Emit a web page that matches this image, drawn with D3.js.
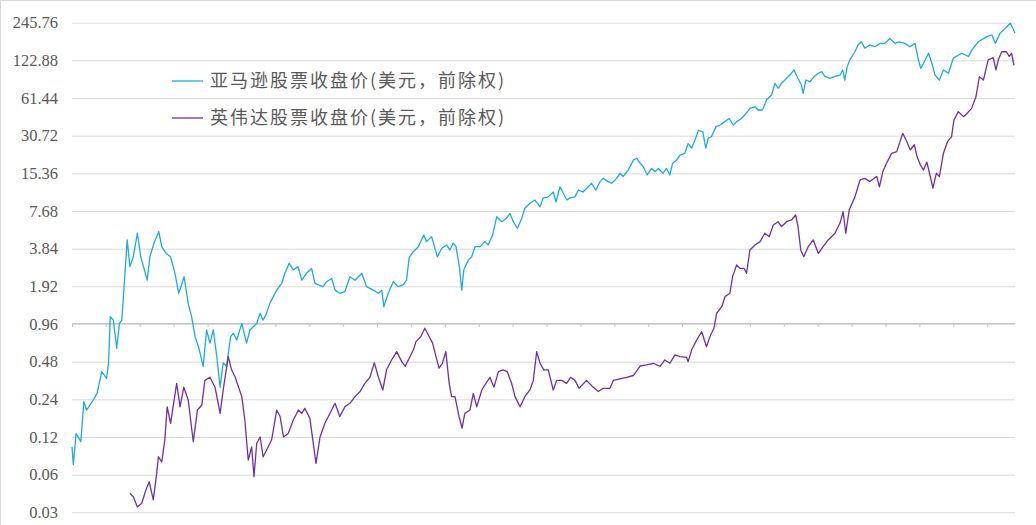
<!DOCTYPE html>
<html>
<head>
<meta charset="utf-8">
<script src="https://cdn.jsdelivr.net/npm/d3@7"></script>
<style>
  body { margin: 0; background: #fff; }
  svg { display: block; }
</style>
</head>
<body>
<div id="container"></div>
<script>
/* DATA (decimal year, close price in USD, split adjusted) */
const amazon = [
  [1997.37,0.100],[1997.41,0.072],[1997.49,0.128],[1997.63,0.110],[1997.72,0.230],[1997.80,0.197],[1997.99,0.235],
  [1998.11,0.268],[1998.25,0.400],[1998.39,0.353],[1998.45,0.470],[1998.50,1.10],[1998.59,1.03],[1998.69,0.614],
  [1998.77,0.97],[1998.84,1.03],[1998.90,1.79],[1999.00,4.51],[1999.08,2.76],[1999.18,3.31],[1999.30,5.10],
  [1999.40,3.31],[1999.59,2.15],[1999.67,3.31],[1999.79,4.26],[1999.93,5.25],[2000.02,3.98],[2000.15,3.52],
  [2000.28,3.31],[2000.41,2.44],[2000.52,1.69],[2000.68,2.29],[2000.80,1.40],[2000.90,1.10],[2001.00,0.76],
  [2001.10,0.63],[2001.15,0.56],[2001.24,0.44],[2001.34,0.86],[2001.44,0.675],[2001.54,0.86],[2001.64,0.53],
  [2001.74,0.30],[2001.83,0.47],[2001.93,0.44],[2002.05,0.76],[2002.13,0.81],[2002.23,0.715],[2002.38,0.97],
  [2002.52,0.675],[2002.62,0.86],[2002.82,0.97],[2002.92,1.17],[2003.01,1.03],[2003.11,1.17],[2003.21,1.41],
  [2003.31,1.59],[2003.41,1.79],[2003.56,2.03],[2003.65,2.44],[2003.78,2.93],[2003.90,2.59],[2004.04,2.76],
  [2004.15,2.15],[2004.29,2.44],[2004.44,2.67],[2004.54,2.03],[2004.64,1.97],[2004.78,1.91],[2004.88,2.09],
  [2005.03,2.22],[2005.13,1.79],[2005.27,1.69],[2005.42,1.74],[2005.57,2.29],[2005.72,2.15],[2005.82,2.29],
  [2005.92,2.44],[2006.06,1.91],[2006.26,1.79],[2006.41,1.69],[2006.51,1.79],[2006.57,1.32],[2006.70,1.69],
  [2006.85,2.09],[2006.99,1.91],[2007.14,1.97],[2007.24,2.15],[2007.32,3.27],[2007.44,3.63],[2007.59,3.98],
  [2007.75,4.95],[2007.83,4.37],[2007.98,4.79],[2008.15,3.31],[2008.28,3.87],[2008.42,4.11],[2008.52,3.75],
  [2008.62,4.26],[2008.70,3.98],[2008.80,2.76],[2008.87,1.79],[2008.93,2.59],[2009.06,3.11],[2009.16,3.31],
  [2009.26,3.98],[2009.41,3.98],[2009.55,4.37],[2009.65,4.11],[2009.78,4.95],[2009.90,6.92],[2010.05,6.31],
  [2010.19,6.73],[2010.29,7.36],[2010.39,6.31],[2010.51,5.59],[2010.64,6.73],[2010.73,8.07],[2010.88,8.85],
  [2011.03,9.40],[2011.18,8.30],[2011.27,9.74],[2011.42,9.96],[2011.57,10.9],[2011.65,9.07],[2011.77,12.0],
  [2011.87,10.6],[2011.97,9.40],[2012.06,9.74],[2012.21,9.96],[2012.31,11.3],[2012.45,10.9],[2012.60,12.0],
  [2012.70,12.8],[2012.83,11.3],[2012.95,13.2],[2013.04,14.0],[2013.19,13.2],[2013.29,12.8],[2013.44,14.0],
  [2013.54,15.4],[2013.63,14.5],[2013.78,16.3],[2013.93,19.6],[2014.03,20.2],[2014.13,18.5],[2014.22,17.4],
  [2014.34,14.9],[2014.47,16.8],[2014.57,15.8],[2014.67,16.8],[2014.81,15.4],[2014.91,16.8],[2015.01,14.9],
  [2015.09,18.5],[2015.21,19.6],[2015.31,21.5],[2015.45,22.2],[2015.55,26.6],[2015.65,24.4],[2015.75,28.4],
  [2015.85,33.9],[2015.98,33.1],[2016.07,24.4],[2016.14,29.3],[2016.24,30.2],[2016.37,36.3],[2016.49,37.4],
  [2016.63,39.8],[2016.76,42.2],[2016.88,37.4],[2016.98,39.8],[2017.12,42.2],[2017.22,44.9],[2017.37,50.8],
  [2017.52,52.3],[2017.61,49.3],[2017.74,49.3],[2017.86,59.2],[2018.01,64.9],[2018.11,80.6],[2018.20,73.5],
  [2018.30,80.6],[2018.45,88.0],[2018.55,93.8],[2018.67,103],[2018.79,88.0],[2018.89,78.0],[2018.94,66.9],
  [2019.02,85.6],[2019.14,82.9],[2019.26,90.8],[2019.39,96.9],[2019.49,99.8],[2019.58,91.6],[2019.73,88.3],
  [2019.88,91.6],[2020.03,93.8],[2020.11,103],[2020.17,85.5],[2020.24,109],[2020.32,124],[2020.47,144],
  [2020.56,163],[2020.66,173],[2020.76,154],[2020.91,163],[2021.06,158],[2021.21,168],[2021.35,168],
  [2021.50,184],[2021.65,168],[2021.77,173],[2021.94,168],[2022.09,158],[2022.24,168],[2022.34,124],
  [2022.41,106],[2022.49,116],[2022.64,140],[2022.74,116],[2022.83,93.8],[2022.96,85.5],[2023.08,103],
  [2023.23,96.9],[2023.37,128],[2023.62,140],[2023.82,132],[2023.92,149],[2024.11,173],[2024.36,190],
  [2024.51,196],[2024.61,168],[2024.75,202],[2024.90,221],[2025.05,243],[2025.13,221],[2025.19,202]
]

const nvidia = [
  [1999.08,0.0426],[1999.18,0.040],[1999.30,0.0331],[1999.43,0.0354],[1999.55,0.0451],[1999.65,0.0526],
  [1999.77,0.0377],[1999.87,0.0614],[1999.92,0.0834],[2000.02,0.076],[2000.11,0.1135],[2000.18,0.209],
  [2000.28,0.154],[2000.46,0.322],[2000.56,0.209],[2000.67,0.30],[2000.80,0.238],[2000.95,0.110],
  [2001.07,0.197],[2001.20,0.216],[2001.29,0.34],[2001.44,0.36],[2001.59,0.30],[2001.74,0.185],
  [2001.83,0.285],[2001.98,0.526],[2002.08,0.413],[2002.18,0.364],[2002.38,0.252],[2002.47,0.164],
  [2002.57,0.0785],[2002.67,0.10],[2002.74,0.0578],[2002.82,0.107],[2002.92,0.12],[2003.01,0.0834],
  [2003.11,0.094],[2003.26,0.1135],[2003.41,0.197],[2003.51,0.175],[2003.61,0.12],[2003.75,0.128],
  [2003.90,0.164],[2004.05,0.197],[2004.15,0.185],[2004.24,0.203],[2004.39,0.169],[2004.57,0.0737],
  [2004.69,0.12],[2004.83,0.154],[2004.98,0.185],[2005.13,0.223],[2005.27,0.175],[2005.42,0.209],
  [2005.57,0.223],[2005.72,0.252],[2005.87,0.277],[2006.01,0.322],[2006.16,0.36],[2006.29,0.471],
  [2006.41,0.36],[2006.54,0.285],[2006.65,0.413],[2006.80,0.495],[2006.95,0.577],[2007.10,0.48],
  [2007.20,0.44],[2007.34,0.526],[2007.44,0.595],[2007.52,0.694],[2007.66,0.76],[2007.78,0.887],
  [2007.91,0.76],[2008.01,0.675],[2008.11,0.526],[2008.20,0.426],[2008.30,0.466],[2008.40,0.577],
  [2008.50,0.322],[2008.57,0.252],[2008.67,0.252],[2008.79,0.175],[2008.88,0.141],[2008.96,0.185],
  [2009.11,0.197],[2009.21,0.268],[2009.31,0.209],[2009.46,0.285],[2009.58,0.322],[2009.70,0.36],
  [2009.82,0.30],[2009.95,0.40],[2010.09,0.413],[2010.21,0.40],[2010.34,0.322],[2010.44,0.252],
  [2010.59,0.209],[2010.73,0.252],[2010.88,0.285],[2010.98,0.34],[2011.08,0.577],[2011.18,0.466],
  [2011.29,0.413],[2011.42,0.413],[2011.57,0.285],[2011.67,0.34],[2011.82,0.34],[2011.96,0.322],
  [2012.08,0.36],[2012.21,0.34],[2012.33,0.294],[2012.55,0.34],[2012.75,0.30],[2012.90,0.277],
  [2013.04,0.294],[2013.24,0.294],[2013.34,0.34],[2013.54,0.35],[2013.73,0.36],[2013.93,0.372],
  [2014.13,0.443],[2014.32,0.453],[2014.52,0.466],[2014.72,0.44],[2014.86,0.495],[2015.01,0.466],
  [2015.16,0.544],[2015.31,0.526],[2015.50,0.52],[2015.55,0.48],[2015.65,0.595],[2015.80,0.715],
  [2015.95,0.833],[2016.09,0.632],[2016.19,0.76],[2016.31,0.887],[2016.39,1.17],[2016.54,1.32],
  [2016.64,1.59],[2016.78,1.69],[2016.86,2.29],[2016.98,2.85],[2017.08,2.67],[2017.20,2.67],
  [2017.27,2.44],[2017.37,3.75],[2017.52,4.11],[2017.67,4.37],[2017.81,5.10],[2017.94,4.79],
  [2018.06,5.93],[2018.20,6.31],[2018.30,5.75],[2018.45,6.31],[2018.60,6.51],[2018.72,7.14],
  [2018.79,5.75],[2018.87,3.75],[2018.96,3.31],[2019.09,3.98],[2019.24,4.51],[2019.39,3.52],
  [2019.53,3.98],[2019.68,4.51],[2019.88,5.10],[2020.03,6.15],[2020.12,7.60],[2020.20,5.10],
  [2020.30,7.82],[2020.47,9.96],[2020.62,13.6],[2020.76,14.0],[2020.91,13.2],[2021.11,14.5],
  [2021.19,12.0],[2021.29,15.8],[2021.40,18.5],[2021.55,22.2],[2021.70,22.9],[2021.88,32.1],
  [2022.00,27.5],[2022.10,23.6],[2022.22,26.0],[2022.30,20.9],[2022.40,17.9],[2022.49,16.3],
  [2022.59,18.9],[2022.69,14.5],[2022.77,11.7],[2022.87,15.4],[2022.96,14.5],[2023.08,22.2],
  [2023.20,27.5],[2023.32,30.2],[2023.39,41.0],[2023.52,47.8],[2023.67,43.6],[2023.78,46.4],
  [2023.91,50.8],[2024.04,62.9],[2024.14,90.8],[2024.26,85.6],[2024.40,124],[2024.55,129],
  [2024.63,103],[2024.70,124],[2024.80,144],[2024.94,144],[2025.02,132],[2025.09,140],[2025.16,112]
]

const seriesNames = ["亚马逊股票收盘价(美元，前除权)", "英伟达股票收盘价(美元，前除权)"]
const seriesColors = ["#1eaae0", "#7030a0"]
const yTicks = [0.03, 0.06, 0.12, 0.24, 0.48, 0.96, 1.92, 3.84, 7.68, 15.36, 30.72, 61.44, 122.88, 245.76]
const startYear = 1997.37
const endYear = 2025.19

/* CONSTANTS AND GLOBALS */
const width = 1036
const height = 525
const margin = { top: 22.7, bottom: 12.7, left: 72, right: 21 }

// decimal year -> Date
const toDate = t => {
  const y = Math.floor(t)
  return new Date(Date.UTC(y, 0, 1) + (t - y) * 365.25 * 864e5)
}

/* SCALES */
const xScale = d3.scaleUtc()
  .domain([toDate(startYear), toDate(endYear)])
  .range([margin.left, width - margin.right])

const yScale = d3.scaleLog()
  .base(2)
  .domain([yTicks[0], yTicks[yTicks.length - 1]])
  .range([height - margin.bottom, margin.top])

/* HTML ELEMENTS */
const svg = d3.select("#container")
  .append("svg")
  .attr("width", width)
  .attr("height", height)

// chart border
svg.append("rect")
  .attr("x", 0.5).attr("y", 0.5)
  .attr("width", width + 10).attr("height", height + 10)
  .attr("fill", "white")
  .attr("stroke", "#d9d9d9")

// gridlines + y labels
const yAxis = d3.axisLeft(yScale)
  .tickValues(yTicks)
  .tickSize(-(width - margin.left - margin.right))
  .tickPadding(14)
  .tickFormat(d => d3.format(".2f")(d).replace(/0$/, "").replace(/\.$/, ""))

const yG = svg.append("g")
  .attr("transform", `translate(${margin.left},0)`)
  .call(yAxis)
yG.attr("font-family", null)
yG.select(".domain").remove()
yG.selectAll(".tick line").attr("stroke", "#d9d9d9")
yG.selectAll(".tick text")
  .attr("fill", "#595959")
  .style("font-family", "'Liberation Serif', 'DejaVu Serif', serif")
  .style("font-size", "16.5px")

// x axis sits at 0.96
const yearTicks = d3.range(0, 28).map(k => d3.utcYear.offset(toDate(startYear), k))
const xAxis = d3.axisBottom(xScale)
  .tickValues(yearTicks)
  .tickSize(4)
  .tickSizeOuter(0)
  .tickFormat("")
const xG = svg.append("g")
  .attr("transform", `translate(0,${yScale(0.96) - 1})`)
  .call(xAxis)
xG.select(".domain").attr("stroke", "#c8c8c8").attr("stroke-width", 1.2)
xG.selectAll(".tick line").attr("stroke", "#c8c8c8")

// lines
const line = d3.line()
  .x(d => xScale(toDate(d[0])))
  .y(d => yScale(d[1]))

svg.selectAll("path.series")
  .data([amazon, nvidia])
  .join("path")
  .attr("class", "series")
  .attr("fill", "none")
  .attr("stroke", (d, i) => seriesColors[i])
  .attr("stroke-width", 1.3)
  .attr("stroke-linejoin", "round")
  .attr("d", line)

// legend
const legend = svg.append("g")
  .selectAll("g")
  .data(seriesNames)
  .join("g")
  .attr("transform", (d, i) => `translate(172,${81 + i * 37})`)

legend.append("line")
  .attr("x1", 0).attr("x2", 31)
  .attr("stroke", (d, i) => seriesColors[i])
  .attr("stroke-width", 1.3)

legend.append("text")
  .attr("x", 38)
  .attr("dy", "0.35em")
  .attr("fill", "#595959")
  .style("font-family", "'Noto Sans CJK SC', sans-serif")
  .style("font-size", "18px")
  .style("letter-spacing", "2px")
  .text(d => d)
</script>
</body>
</html>
